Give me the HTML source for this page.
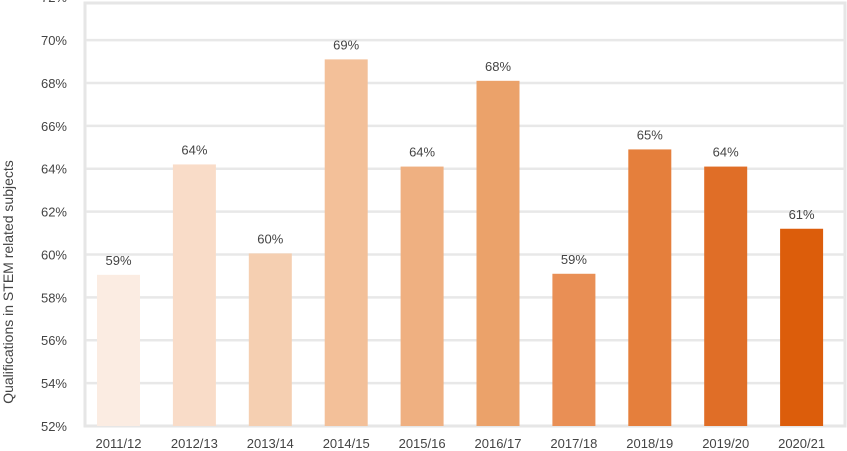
<!DOCTYPE html>
<html><head><meta charset="utf-8"><style>
html,body{margin:0;padding:0;background:#fff;}
svg{display:block;font-family:"Liberation Sans",sans-serif;}
</style></head><body>
<svg id="chart" width="847" height="451" viewBox="0 0 847 451" xmlns="http://www.w3.org/2000/svg">
<rect x="85" y="3" width="760" height="423" fill="none" stroke="#e6e6e6" stroke-width="3"/>
<g id="grid"></g>
<g id="yticks"></g>
<g id="bars"></g>
<g id="xticks"></g>
<text x="13" y="282" transform="rotate(-90 13 282)" text-anchor="middle" font-size="14" fill="#444">Qualifications in STEM related subjects</text>
</svg>
<script>
const categories = ["2011/12","2012/13","2013/14","2014/15","2015/16","2016/17","2017/18","2018/19","2019/20","2020/21"];
const values = [59.05, 64.2, 60.05, 69.1, 64.1, 68.1, 59.1, 64.9, 64.1, 61.2];
const valueLabels = ["59%","64%","60%","69%","64%","68%","59%","65%","64%","61%"];
const yTicks = [52,54,56,58,60,62,64,66,68,70,72];
const colors = ["#fbece2","#f9dcc8","#f5cfb1","#f3c099","#efb081","#eba26a","#e98f55","#e57f3c","#e06e27","#dc5d0b"];

const NS="http://www.w3.org/2000/svg";
function y(v){return 426-(v-52)*21.44;}
function xc(i){return 118.5+i*75.9;}
const barW=43;
const grid=document.getElementById('grid'),yt=document.getElementById('yticks'),bars=document.getElementById('bars'),xt=document.getElementById('xticks');
yTicks.forEach(t=>{
  if(t>52&&t<72){
    const l=document.createElementNS(NS,'line');
    
    
    l.setAttribute('x1',86);l.setAttribute('x2',845);l.setAttribute('y1',y(t));l.setAttribute('y2',y(t));
    l.setAttribute('stroke','#e8e8e8');l.setAttribute('stroke-width','2.5');
    grid.appendChild(l);
  }
  const tx=document.createElementNS(NS,'text');
  
  
  tx.setAttribute('x',67);tx.setAttribute('y',y(t)+5);tx.setAttribute('text-anchor','end');
  tx.setAttribute('font-size','13');tx.setAttribute('fill','#444');
  tx.textContent=t+'%';yt.appendChild(tx);
});
categories.forEach((c,i)=>{
  const r=document.createElementNS(NS,'rect');
  
  
  r.setAttribute('x',xc(i)-barW/2);r.setAttribute('y',y(values[i]));
  r.setAttribute('width',barW);r.setAttribute('height',y(52)-y(values[i]));
  r.setAttribute('fill',colors[i]);
  bars.appendChild(r);
  const lb=document.createElementNS(NS,'text');
  
  
  lb.setAttribute('x',xc(i));lb.setAttribute('y',y(values[i])-10);lb.setAttribute('text-anchor','middle');
  lb.setAttribute('font-size','13');lb.setAttribute('fill','#444');
  lb.textContent=valueLabels[i];bars.appendChild(lb);
  const xl=document.createElementNS(NS,'text');
  
  
  xl.setAttribute('x',xc(i));xl.setAttribute('y',448);xl.setAttribute('text-anchor','middle');
  xl.setAttribute('font-size','13');xl.setAttribute('fill','#444');
  xl.textContent=c;xt.appendChild(xl);
});
</script>
</body></html>
